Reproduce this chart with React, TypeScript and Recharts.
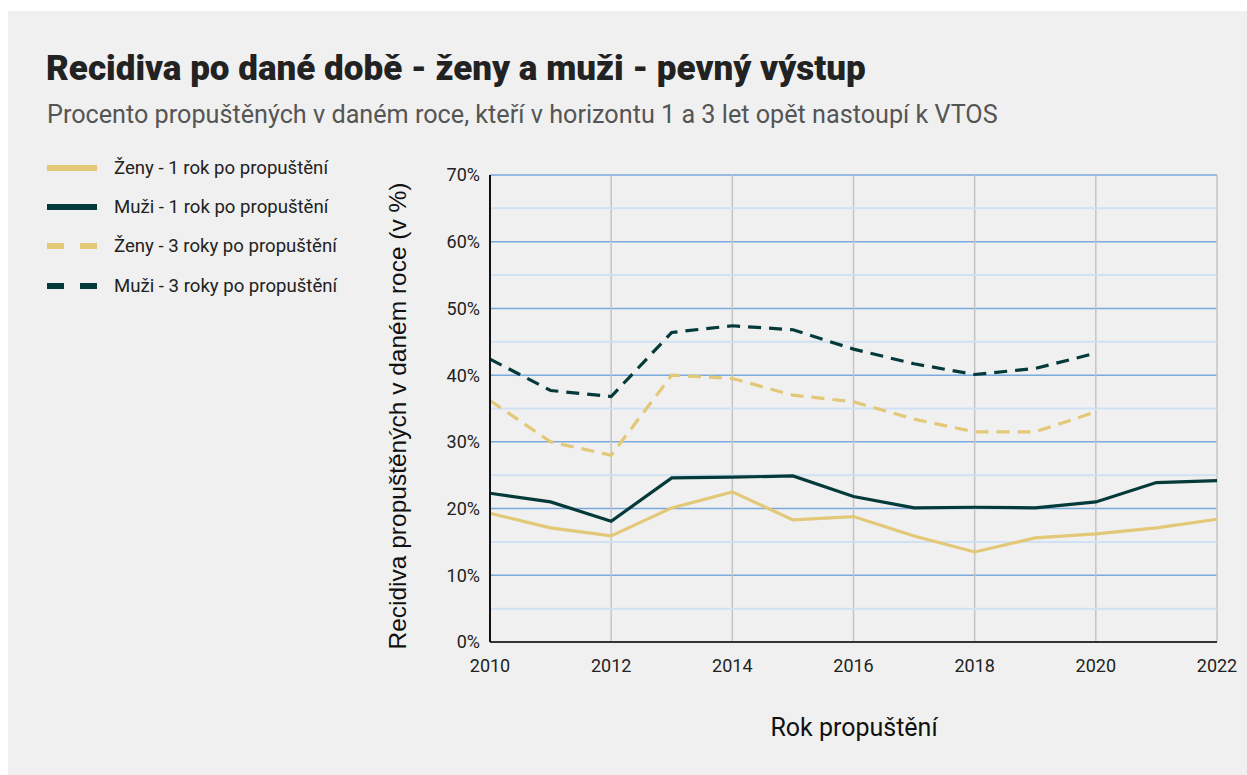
import React from "react";
import {
    LineChart,
    Line,
    XAxis,
    YAxis,
    CartesianGrid,
    ReferenceLine
} from "recharts";

const years = [2010, 2011, 2012, 2013, 2014, 2015, 2016, 2017, 2018, 2019, 2020, 2021, 2022];
const zeny1 = [19.3, 17.1, 15.9, 20.1, 22.5, 18.3, 18.8, 15.9, 13.5, 15.6, 16.2, 17.1, 18.4];
const muzi1 = [22.3, 21.0, 18.1, 24.6, 24.7, 24.9, 21.8, 20.1, 20.2, 20.1, 21.0, 23.9, 24.2];
const zeny3 = [36.2, 30.0, 28.0, 40.0, 39.5, 37.0, 36.0, 33.4, 31.5, 31.5, 34.5, null, null];
const muzi3 = [42.4, 37.7, 36.8, 46.4, 47.4, 46.8, 43.9, 41.7, 40.1, 41.0, 43.3, null, null];

const xTicks = [2010, 2012, 2014, 2016, 2018, 2020, 2022];
const yTicks = [0, 10, 20, 30, 40, 50, 60, 70];
const yMinor = [5, 15, 25, 35, 45, 55, 65];

const YELLOW = "#e3c877";
const DARK = "#043b3a";

const data = years.map((y, i) => ({
    year: y,
    zeny1: zeny1[i],
    muzi1: muzi1[i],
    zeny3: zeny3[i],
    muzi3: muzi3[i],
}));

const legendItems = [
    { label: "Ženy - 1 rok po propuštění", color: YELLOW, dashed: false },
    { label: "Muži - 1 rok po propuštění", color: DARK, dashed: false },
    { label: "Ženy - 3 roky po propuštění", color: YELLOW, dashed: true },
    { label: "Muži - 3 roky po propuštění", color: DARK, dashed: true },
];

function ChartLegend() {
    return (
        <div style={{ position: "absolute", left: 38, top: 137, width: 330 }}>
            {legendItems.map((it) => (
                <div key={it.label} style={{ display: "flex", alignItems: "center", height: 39.3 }}>
                    <svg width={52} height={8} style={{ marginRight: 16 }}>
                        <line
                            x1={1} y1={4} x2={51} y2={4}
                            stroke={it.color}
                            strokeWidth={6}
                            strokeDasharray={it.dashed ? "17 16" : undefined}
                        />
                    </svg>
                    <span style={{ fontSize: 18.6, color: "#222", whiteSpace: "nowrap" }}>{it.label}</span>
                </div>
            ))}
        </div>
    );
}

export default function App() {
    return (
        <div style={{ position: "absolute", left: 8, top: 11, width: 1239, height: 764, background: "#f0f0f0", fontFamily: "Roboto, sans-serif" }}>
            <div style={{ position: "absolute", left: 38, top: 38, fontSize: 35, fontWeight: 900, color: "#222", whiteSpace: "nowrap", lineHeight: 1.17 }}>
                Recidiva po dané době - ženy a muži - pevný výstup
            </div>
            <div style={{ position: "absolute", left: 39, top: 89, fontSize: 25.2, color: "#555", whiteSpace: "nowrap", lineHeight: 1.17 }}>
                Procento propuštěných v daném roce, kteří v horizontu 1 a 3 let opět nastoupí k VTOS
            </div>

            <ChartLegend />

            <div style={{ position: "absolute", left: 0, top: 0 }}>
                <LineChart
                    width={1239}
                    height={764}
                    data={data}
                    margin={{ top: 164, right: 30, left: 422, bottom: 103 }}
                >
                    {yMinor.map((v) => (
                        <ReferenceLine key={v} y={v} stroke="#cfe1f2" strokeWidth={2} />
                    ))}
                    <CartesianGrid horizontal={true} vertical={false} stroke="#7aa9dc" strokeWidth={1.5} />
                    <CartesianGrid horizontal={false} vertical={true} stroke="#c4c4c4" strokeWidth={1.5} />
                    <XAxis
                        dataKey="year"
                        type="number"
                        domain={[2010, 2022]}
                        ticks={xTicks}
                        height={30}
                        tickLine={false}
                        axisLine={{ stroke: "#333", strokeWidth: 2 }}
                        tick={{ fill: "#222", fontSize: 18 }}
                        tickMargin={11}
                    />
                    <YAxis
                        type="number"
                        domain={[0, 70]}
                        ticks={yTicks}
                        width={60}
                        tickLine={false}
                        axisLine={{ stroke: "#111", strokeWidth: 2 }}
                        tick={{ fill: "#222", fontSize: 18 }}
                        tickFormatter={(v) => `${v}%`}
                        tickMargin={4}
                    />
                    <Line dataKey="zeny1" stroke={YELLOW} strokeWidth={3.2} dot={false} isAnimationActive={false} type="linear" />
                    <Line dataKey="muzi1" stroke={DARK} strokeWidth={3.2} dot={false} isAnimationActive={false} type="linear" />
                    <Line dataKey="zeny3" stroke={YELLOW} strokeWidth={3.2} strokeDasharray="13 8" dot={false} isAnimationActive={false} type="linear" />
                    <Line dataKey="muzi3" stroke={DARK} strokeWidth={3.2} strokeDasharray="13 8" dot={false} isAnimationActive={false} type="linear" />
                </LineChart>
            </div>

            <div style={{ position: "absolute", left: 390, top: 405, width: 0, height: 0 }}>
                <div style={{ position: "absolute", transform: "translate(-50%, -50%) rotate(-90deg)", fontFamily: "'Liberation Sans', Arial, sans-serif", fontSize: 24.5, color: "#111", whiteSpace: "nowrap" }}>
                    Recidiva propuštěných v daném roce (v %)
                </div>
            </div>
            <div style={{ position: "absolute", left: 846, top: 716, width: 0, height: 0 }}>
                <div style={{ position: "absolute", transform: "translate(-50%, -50%)", fontSize: 25, color: "#111", whiteSpace: "nowrap" }}>
                    Rok propuštění
                </div>
            </div>
        </div>
    );
}
